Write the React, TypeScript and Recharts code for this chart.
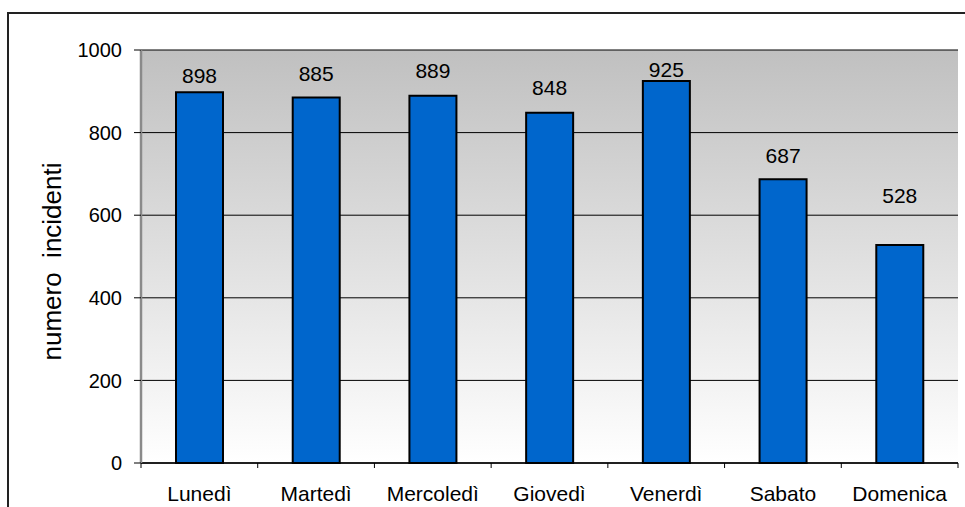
import React from "react";
import {
  BarChart,
  Bar,
  XAxis,
  YAxis,
  CartesianGrid,
  LabelList,
} from "recharts";

const days = ["Lunedì", "Martedì", "Mercoledì", "Giovedì", "Venerdì", "Sabato", "Domenica"];
const incidents = [898, 885, 889, 848, 925, 687, 528];
const yTicks = [0, 200, 400, 600, 800, 1000];

const data = days.map((day, i) => ({ day, value: incidents[i] }));

// gap (px) between each bar top and its value label baseline
const labelGaps = [9, 16, 18, 18, 4, 16, 42];

const FONT = "'Liberation Sans', Arial, sans-serif";

// category label in the middle, tick marks on the category boundaries
function DayTick(props: any) {
  const { x, y, payload, index, visibleTicksCount } = props;
  const half = payload?.offset ?? 58.4;
  const isLast = index === visibleTicksCount - 1;
  return (
    <g>
      <line x1={x - half} x2={x - half} y1={y} y2={y + 5} stroke="#000" />
      {isLast && <line x1={x + half} x2={x + half} y1={y} y2={y + 5} stroke="#000" />}
      <text x={x} y={y + 38} textAnchor="middle" fontSize={21} fontFamily={FONT} fill="#000">
        {payload.value}
      </text>
    </g>
  );
}

function ValueLabel(props: any) {
  const { x, y, width, value, index } = props;
  const gap = labelGaps[index] ?? 9;
  return (
    <text x={x + width / 2} y={y - gap} textAnchor="middle" fontSize={21} fontFamily={FONT} fill="#000">
      {value}
    </text>
  );
}

function AxisTitle(props: any) {
  const { viewBox } = props;
  const cx = viewBox.x + 52;
  const cy = viewBox.y + viewBox.height / 2 + 5;
  return (
    <text
      x={cx}
      y={cy}
      transform={`rotate(-90, ${cx}, ${cy})`}
      textAnchor="middle"
      dominantBaseline="central"
      fontSize={26}
      fontFamily={FONT}
      fill="#000"
      style={{ whiteSpace: "pre" }}
    >
      numero  incidenti
    </text>
  );
}

export default function App() {
  return (
    <div style={{ position: "absolute", left: 0, top: 0, width: 965, height: 507, background: "#fff", overflow: "hidden" }}>
      <div
        style={{
          position: "absolute",
          left: 7,
          top: 12,
          width: 1000,
          height: 600,
          border: "2px solid #222",
        }}
      />
      <BarChart
        width={965}
        height={507}
        data={data}
        margin={{ top: 50, right: 7, left: 0, bottom: 0 }}
        style={{ position: "absolute", left: 0, top: 0 }}
      >
        <defs>
          <linearGradient id="plotBg" x1="0" y1="0" x2="0" y2="1">
            <stop offset="0%" stopColor="#c0c0c0" />
            <stop offset="100%" stopColor="#ffffff" />
          </linearGradient>
        </defs>
        <CartesianGrid vertical={false} stroke="#000" fill="url(#plotBg)" fillOpacity={1} />
        <XAxis
          dataKey="day"
          height={44}
          axisLine={{ stroke: "#000", strokeWidth: 1.5 }}
          tickLine={false}
          tickSize={0}
          tickMargin={0}
          interval={0}
          tick={<DayTick />}
        />
        <XAxis
          xAxisId="top"
          dataKey="day"
          orientation="top"
          height={0}
          tick={false}
          tickLine={false}
          axisLine={{ stroke: "#8a8a8a", strokeWidth: 2.5 }}
        />
        <YAxis
          domain={[0, 1000]}
          ticks={yTicks}
          width={141}
          tickSize={7}
          tickMargin={12}
          tickLine={{ stroke: "#000" }}
          axisLine={{ stroke: "#8a8a8a", strokeWidth: 2.5 }}
          tick={{ fontSize: 20, fontFamily: FONT, fill: "#000" }}
          label={<AxisTitle />}
        />
        <YAxis
          yAxisId="right"
          orientation="right"
          domain={[0, 1000]}
          width={0}
          tick={false}
          tickLine={false}
          axisLine={{ stroke: "#8a8a8a", strokeWidth: 2.5 }}
        />
        <Bar dataKey="value" fill="#0066cc" stroke="#000" strokeWidth={2} barSize={47} isAnimationActive={false}>
          <LabelList dataKey="value" content={<ValueLabel />} />
        </Bar>
      </BarChart>
    </div>
  );
}
